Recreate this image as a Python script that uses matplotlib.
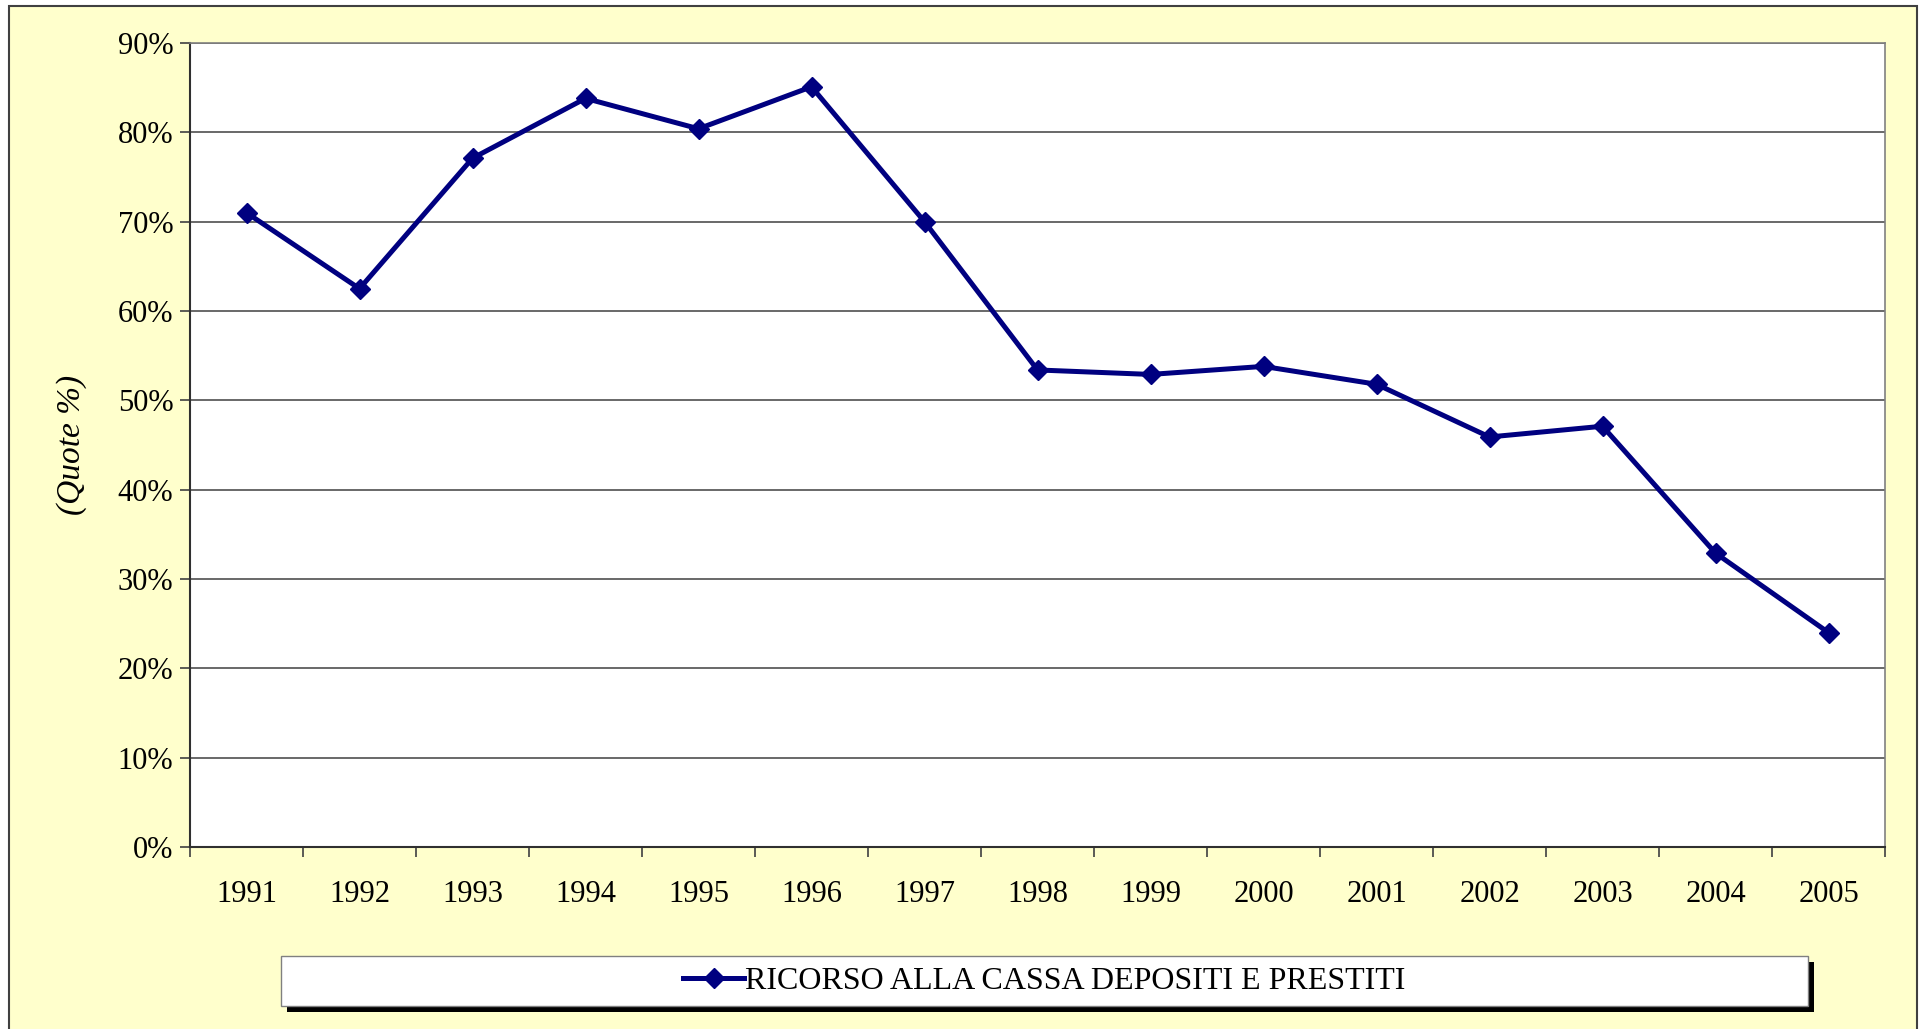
"""Ricorso alla Cassa Depositi e Prestiti, quote percentuali 1991-2005."""

import matplotlib.pyplot as plt
from matplotlib.lines import Line2D
from matplotlib.patches import Rectangle
import numpy as np

# Data
years = ['1991', '1992', '1993', '1994', '1995', '1996', '1997', '1998',
         '1999', '2000', '2001', '2002', '2003', '2004', '2005']
quote = [71.0, 62.5, 77.1, 83.8, 80.4, 85.1, 70.0, 53.4,
         52.9, 53.8, 51.8, 45.9, 47.1, 32.9, 24.0]
y_ticks = [0, 10, 20, 30, 40, 50, 60, 70, 80, 90]
series_name = 'RICORSO ALLA CASSA DEPOSITI E PRESTITI'

W, H = 1919, 1029
plt.rcParams['font.family'] = ['Liberation Serif', 'DejaVu Serif']

fig = plt.figure(figsize=(W / 100, H / 100), dpi=100)
fig.patch.set_facecolor('white')

# yellow outer frame
fig.patches.append(Rectangle((9 / W, -0.05), (1917 - 9) / W, 1.05 - 6 / H,
                             transform=fig.transFigure, facecolor='#FFFFCC',
                             edgecolor='#404040', linewidth=1.5, zorder=-10))

ax = fig.add_axes([190 / W, (H - 847) / H, (1885 - 190) / W, (847 - 43) / H])
ax.set_facecolor('white')

x = np.arange(len(years))
ax.plot(x, quote, color='#000080', linewidth=3.6, marker='D', markersize=10.5,
        zorder=3, clip_on=False)

ax.set_xlim(-0.5, len(years) - 0.5)
ax.set_ylim(0, 90)

ax.set_yticks(y_ticks)
ax.set_yticklabels([f'{v}%' for v in y_ticks])
ax.yaxis.grid(True, color='#404040', linewidth=1.1)
ax.set_axisbelow(True)

ax.set_xticks(np.arange(len(years) + 1) - 0.5)
ax.set_xticklabels([])
ax.set_xticks(x, minor=True)
ax.set_xticklabels(years, minor=True)

ax.tick_params(axis='y', length=7, width=1.2, color='#404040', pad=5, labelsize=22)
ax.tick_params(axis='x', which='major', length=7, width=1.2, color='#404040')
ax.tick_params(axis='x', which='minor', length=0, pad=24, labelsize=22)

for side in ['top', 'right']:
    ax.spines[side].set_color('#808080')
    ax.spines[side].set_linewidth(1.2)
for side in ['left', 'bottom']:
    ax.spines[side].set_color('#303030')
    ax.spines[side].set_linewidth(1.5)

ax.set_ylabel('(Quote %)', fontsize=24, style='italic', labelpad=22)

# legend box with black shadow
lx0, lx1, ly0, ly1 = 281, 1808, 956, 1006
fig.patches.append(Rectangle(((lx0 + 6) / W, (H - ly1 - 6) / H), (lx1 - lx0) / W,
                             (ly1 - ly0) / H, transform=fig.transFigure,
                             facecolor='black', edgecolor='none', zorder=1))
fig.patches.append(Rectangle((lx0 / W, (H - ly1) / H), (lx1 - lx0) / W,
                             (ly1 - ly0) / H, transform=fig.transFigure,
                             facecolor='white', edgecolor='#808080',
                             linewidth=1, zorder=2))
handle = Line2D([], [], color='#000080', linewidth=3.6, marker='D', markersize=10.5)
fig.legend([handle], [series_name], loc='center',
           bbox_to_anchor=((lx0 + lx1) / 2 / W, 1 - (ly0 + ly1) / 2 / H),
           frameon=False, fontsize=23, handlelength=1.9, handletextpad=0.05)

fig.savefig('out.png', dpi=100)
